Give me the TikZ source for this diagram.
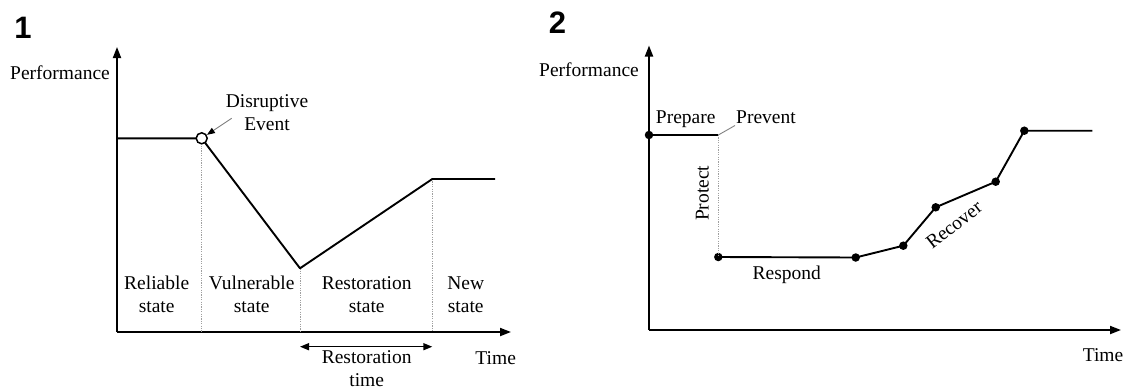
\documentclass[tikz,border=0pt]{standalone}
\usepackage{fontspec}
\setmainfont{Liberation Serif}
\newfontfamily\panelfont{Liberation Sans}
\usetikzlibrary{arrows.meta}
\begin{document}
\begin{tikzpicture}[x=1pt,y=-1pt,
  axis/.style={line width=1.9pt,-{Triangle[length=11pt,width=8pt]}},
  curve/.style={line width=1.9pt,line join=round},
  guide/.style={draw=gray!75,line width=0.9pt,dash pattern=on 1.2pt off 1.2pt},
  leader/.style={draw=gray,line width=0.9pt},
  lbl/.style={font=\fontsize{19.5}{23}\selectfont,inner sep=0pt,align=center},
  panel/.style={font=\panelfont\bfseries\fontsize{31}{34}\selectfont,inner sep=0pt},
  dot/.style={circle,fill=black,inner sep=0pt,minimum size=8.5pt},
  ring/.style={circle,draw=black,fill=white,line width=1.5pt,inner sep=0pt,minimum size=11pt}]
\useasboundingbox (0,0) rectangle (1123,389);

% ---------------- panel 1: resilience states ----------------
\node[panel] (n1) at (23,28) {1};
\coordinate (o1) at (117,332);
\coordinate (y1) at (117,47);
\coordinate (x1) at (511,332);
\draw[axis] (o1) -- (y1);
\draw[axis] (o1) -- (x1);
\node[lbl] (perf1) at (60,73) {Performance};
\node[lbl] (time1) at (495.7,358.3) {Time};

\coordinate (a1) at (117,138.3);
\coordinate (ev) at (201.7,138.3);
\coordinate (low) at (300,268.3);
\coordinate (rec) at (432.3,179);
\coordinate (e1) at (495,179);
\coordinate (evb) at (201.7,332);
\coordinate (lowb) at (300,332);
\coordinate (recb) at (432.3,332);

\draw[guide] (ev) -- (evb);
\draw[guide] (low) -- (lowb);
\draw[guide] (rec) -- (recb);
\draw[curve] (a1) -- (ev) -- (low) -- (rec) -- (e1);
\node[ring] (evring) at (ev) {};

\node[lbl] (disr) at (267,113) {Disruptive\\Event};
\coordinate (disrtail) at (231.7,118.3);
\draw[leader,-{Triangle[length=8pt,width=6pt,color=black]}] (disrtail) -- (evring);

\node[lbl] (st1) at (156.7,294.5) {Reliable\\state};
\node[lbl] (st2) at (251.7,294.5) {Vulnerable\\state};
\node[lbl] (st3) at (366.7,294.5) {Restoration\\state};
\node[lbl] (st4) at (465.7,294.5) {New\\state};

\coordinate (rt1) at (300,346.7);
\coordinate (rt2) at (432.3,346.7);
\draw[line width=1.5pt,{Triangle[length=9pt,width=7pt]}-{Triangle[length=9pt,width=7pt]}] (rt1) -- (rt2);
\node[lbl] (rtime) at (366.7,369) {Restoration\\time};

% ---------------- panel 2: resilience phases ----------------
\node[panel] (n2) at (557.5,23) {2};
\coordinate (o2) at (649,330);
\coordinate (y2) at (649,45.5);
\coordinate (x2) at (1121,330);
\draw[axis] (o2) -- (y2);
\draw[axis] (o2) -- (x2);
\node[lbl] (perf2) at (589,70) {Performance};
\node[lbl] (time2) at (1103,355) {Time};

\node[dot] (q0) at (649,135) {};
\coordinate (q1) at (718.3,135);
\node[dot] (q2) at (718.3,257) {};
\node[dot] (q3) at (855.7,257.5) {};
\node[dot] (q4) at (903.3,245.7) {};
\node[dot] (q5) at (935.7,207.3) {};
\node[dot] (q6) at (995.7,181.7) {};
\node[dot] (q7) at (1024.3,130.7) {};
\coordinate (q8) at (1092.3,130.7);

\draw[guide] (q1) -- (q2.center);
\draw[curve] (q0.center) -- (q1);
\draw[curve] (q2.center) -- (q3.center) -- (q4.center) -- (q5.center)
  -- (q6.center) -- (q7.center) -- (q8);

\node[lbl] (prep) at (685.7,119) {Prepare};
\node[lbl] (prev) at (766,117.3) {Prevent};
\coordinate (prevtail) at (735,125.5);
\draw[leader] (q1) -- (prevtail);
\node[lbl,rotate=90] (prot) at (702.3,193.3) {Protect};
\node[lbl] (resp) at (786.7,275) {Respond};
\node[lbl,rotate=38] (recov) at (954,225) {Recover};
\end{tikzpicture}
\end{document}
